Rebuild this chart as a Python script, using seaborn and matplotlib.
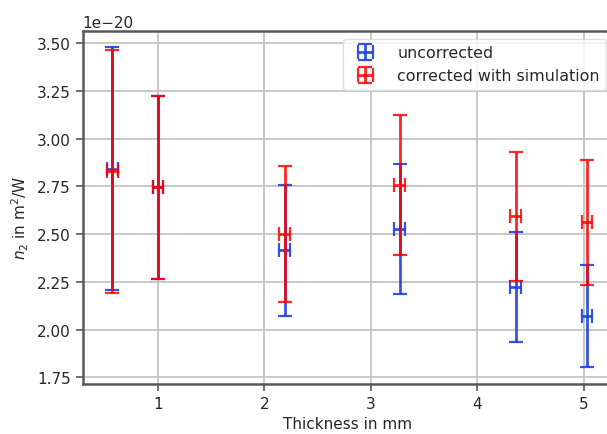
import matplotlib
matplotlib.use('Agg')
import matplotlib.pyplot as plt
import seaborn as sns
import numpy as np

# thickness in mm, n2 in units of 1e-20 m^2/W
thickness = [0.57, 1.0, 2.19, 3.27, 4.36, 5.03]
thickness_err = [0.05, 0.05, 0.05, 0.05, 0.05, 0.05]
n2_uncorr = [2.844, 2.745, 2.415, 2.528, 2.224, 2.073]
n2_uncorr_err = [0.637, 0.48, 0.345, 0.341, 0.289, 0.267]
n2_corr = [2.83, 2.745, 2.50, 2.757, 2.594, 2.562]
n2_corr_err = [0.636, 0.48, 0.356, 0.366, 0.337, 0.328]

sns.set_style('whitegrid', {'axes.edgecolor': '0.35', 'grid.color': '0.75',
                            'xtick.bottom': True, 'ytick.left': True})
plt.rcParams['font.family'] = ['DejaVu Sans']
plt.rcParams['font.size'] = 11

fig = plt.figure(figsize=(6.07, 4.35), dpi=100)
ax = fig.add_axes([82.5 / 607, 50 / 435, 529.5 / 607, 353.3 / 435])

ax.errorbar(thickness, np.array(n2_uncorr) * 1e-20, xerr=thickness_err,
            yerr=np.array(n2_uncorr_err) * 1e-20, fmt='none', ecolor='#1f40e0',
            elinewidth=2, capsize=5, capthick=1.6, alpha=0.9, label='uncorrected')
ax.errorbar(thickness, np.array(n2_corr) * 1e-20, xerr=thickness_err,
            yerr=np.array(n2_corr_err) * 1e-20, fmt='none', ecolor='#ff0000',
            elinewidth=2, capsize=5, capthick=1.6, alpha=0.85,
            label='corrected with simulation')

ax.set_xlim(0.29, 5.265)
ax.set_ylim(1.715e-20, 3.566e-20)
ax.set_yticks(np.arange(1.75, 3.51, 0.25) * 1e-20)
ax.set_xticks([1, 2, 3, 4, 5])
for s in ax.spines.values():
    s.set_linewidth(1.8)
ax.tick_params(length=5, width=1.2, color='0.35', labelsize=11)
ax.grid(True, linewidth=1.2)
ax.set_xlabel('Thickness in mm', fontsize=11)
ax.set_ylabel('$n_2$ in m$^2$/W', fontsize=11)
ax.yaxis.set_label_coords(31 / 607, 0.5, transform=fig.transFigure)
ax.yaxis.get_offset_text().set_fontsize(11)

ax.legend(loc='upper right', bbox_to_anchor=(523.5 / 529.5, 345 / 353.3),
          borderaxespad=0, fontsize=11.4, frameon=True, framealpha=0.8,
          edgecolor='0.85', borderpad=0.4, handletextpad=1.0)

fig.savefig('out.png', dpi=100)
